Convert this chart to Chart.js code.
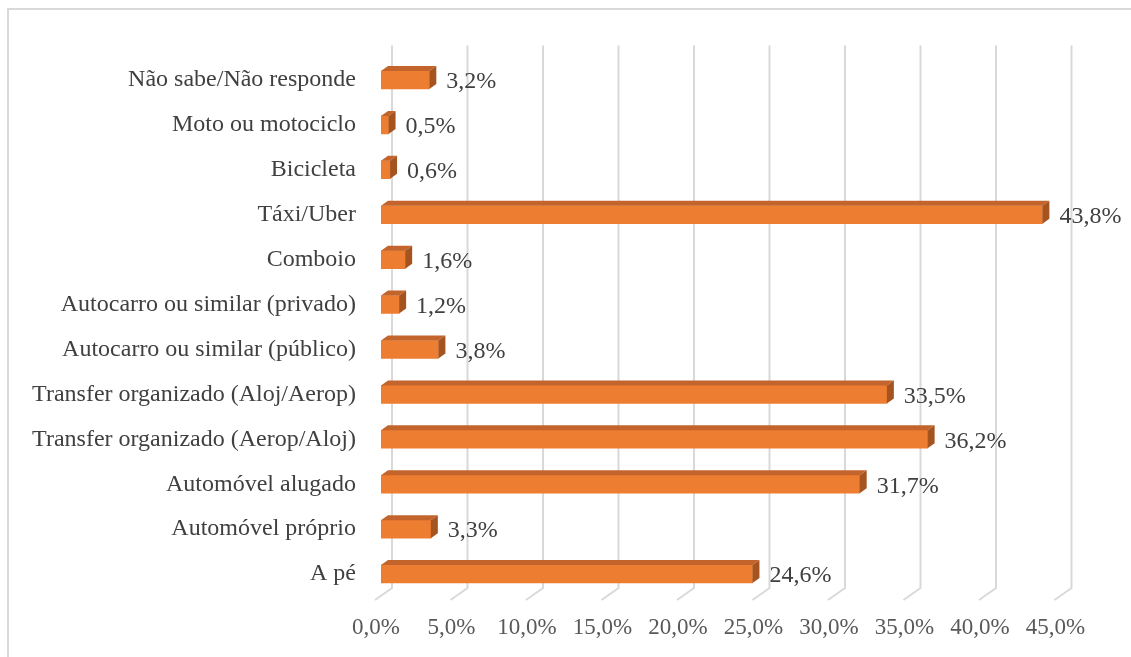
<!DOCTYPE html>
<html>
<head>
<meta charset="utf-8">
<script src="https://cdn.jsdelivr.net/npm/chart.js@4"></script>
<style>
  html, body { margin: 0; padding: 0; background: #fff; overflow: hidden; }
  #wrap { position: relative; width: 1131px; height: 657px; }
  #frame { position: absolute; left: 7px; top: 8px; width: 1200px; height: 700px; border: 2px solid #d9d9d9; box-sizing: border-box; }
  canvas { position: absolute; left: 0; top: 0; }
</style>
</head>
<body>
<div id="wrap">
  <div id="frame"></div>
  <canvas id="barChart"></canvas>
</div>
<script>
const categories = [
  "Não sabe/Não responde",
  "Moto ou motociclo",
  "Bicicleta",
  "Táxi/Uber",
  "Comboio",
  "Autocarro ou similar (privado)",
  "Autocarro ou similar (público)",
  "Transfer organizado (Aloj/Aerop)",
  "Transfer organizado (Aerop/Aloj)",
  "Automóvel alugado",
  "Automóvel próprio",
  "A pé"
];
const percentages = [3.2, 0.5, 0.6, 43.8, 1.6, 1.2, 3.8, 33.5, 36.2, 31.7, 3.3, 24.6];
const tickValues = [0, 5, 10, 15, 20, 25, 30, 35, 40, 45];

const fmt = v => v.toFixed(1).replace('.', ',') + '%';
const serif = "'Liberation Serif', 'Times New Roman', serif";

// depth of the 3D bars
const DX = 7, DY = 5;

const wallPlugin = {
  id: 'wall',
  beforeDatasetsDraw(chart) {
    const ctx = chart.ctx;
    const xs = chart.scales.x;
    const area = chart.chartArea;
    ctx.save();
    ctx.strokeStyle = '#d9d9d9';
    ctx.lineWidth = 2;
    tickValues.forEach(v => {
      const xf = xs.getPixelForValue(v);
      ctx.beginPath();
      ctx.moveTo(xf + 11, area.top - 12);
      ctx.lineTo(xf + 11, area.bottom - 8.5);
      ctx.lineTo(xf - 6, area.bottom + 3.5);
      ctx.stroke();
    });
    ctx.restore();
  }
};

const bar3dPlugin = {
  id: 'bar3d',
  afterDatasetsDraw(chart) {
    const ctx = chart.ctx;
    const meta = chart.getDatasetMeta(0);
    ctx.save();
    meta.data.forEach((bar, i) => {
      const p = bar.getProps(['x', 'y', 'base', 'height'], true);
      const top = p.y - p.height / 2;
      const bottom = p.y + p.height / 2;
      // top face
      ctx.fillStyle = '#c2642c';
      ctx.beginPath();
      ctx.moveTo(p.base, top);
      ctx.lineTo(p.x, top);
      ctx.lineTo(p.x + DX, top - DY);
      ctx.lineTo(p.base + DX, top - DY);
      ctx.closePath();
      ctx.fill();
      // side face
      ctx.fillStyle = '#a5531f';
      ctx.beginPath();
      ctx.moveTo(p.x, top);
      ctx.lineTo(p.x + DX, top - DY);
      ctx.lineTo(p.x + DX, bottom - DY);
      ctx.lineTo(p.x, bottom);
      ctx.closePath();
      ctx.fill();
      // value label
      ctx.fillStyle = '#404040';
      ctx.font = '24px ' + serif;
      ctx.textAlign = 'left';
      ctx.textBaseline = 'middle';
      ctx.fillText(fmt(percentages[i]), p.x + DX + 10, p.y + 2);
    });
    ctx.restore();
  }
};

const ctx = document.getElementById('barChart').getContext('2d');

const data = {
  labels: categories,
  datasets: [{
    data: percentages,
    backgroundColor: '#ed7d31',
    borderWidth: 0,
    barThickness: 18
  }]
};

const options = {
  indexAxis: 'y',
  responsive: true,
  maintainAspectRatio: false,
  animation: false,
  layout: { padding: { top: 57.5, right: 70.5, left: 0, bottom: 0 } },
  plugins: {
    legend: { display: false },
    tooltip: { enabled: false }
  },
  scales: {
    x: {
      min: 0,
      max: 45,
      grid: { display: false, drawTicks: false },
      border: { display: false },
      afterFit: s => { s.height = 60.5; },
      afterBuildTicks: s => { s.ticks = tickValues.map(v => ({ value: v })); },
      ticks: {
        padding: 18,
        labelOffset: -5,
        color: '#595959',
        font: { family: serif, size: 23 },
        callback: v => fmt(v)
      }
    },
    y: {
      grid: { display: false, drawTicks: false },
      border: { display: false },
      afterFit: s => { s.width = 381; },
      ticks: {
        padding: 25,
        color: '#404040',
        font: { family: serif, size: 24 }
      }
    }
  }
};

new Chart(ctx, {
  type: 'bar',
  data: data,
  options: options,
  plugins: [wallPlugin, bar3dPlugin]
});
</script>
</body>
</html>
